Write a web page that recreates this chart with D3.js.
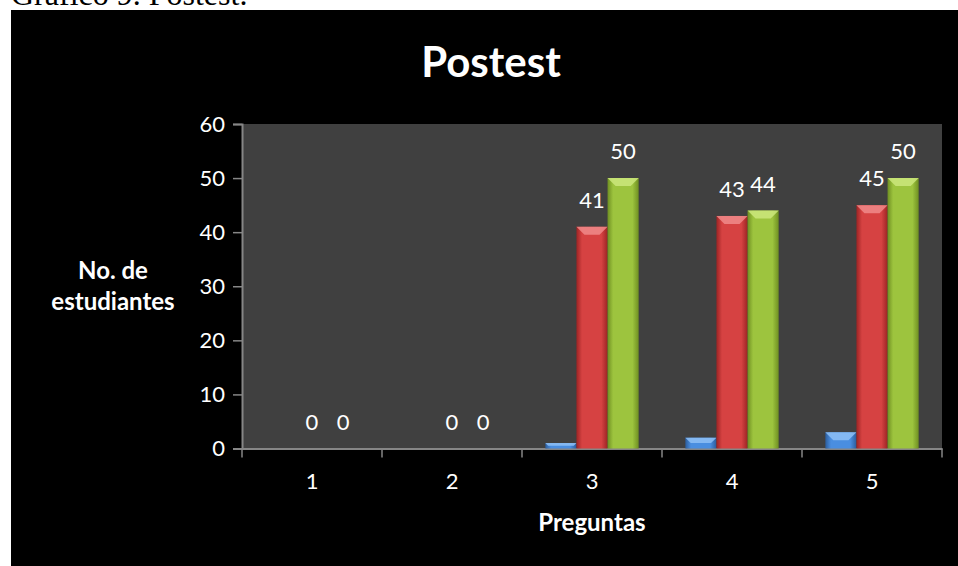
<!DOCTYPE html>
<html>
<head>
<meta charset="utf-8">
<script src="https://cdn.jsdelivr.net/npm/d3@7"></script>
<style>
  body { margin: 0; background: #fff; }
  svg { display: block; }
</style>
</head>
<body>
<div id="chart"></div>
<script>
// data
var preguntas = ["1", "2", "3", "4", "5"];
var serie1 = [0, 0, 1, 2, 3];
var serie2 = [0, 0, 41, 43, 45];
var serie3 = [0, 0, 50, 44, 50];
var yTicks = [0, 10, 20, 30, 40, 50, 60];

var W = 958, H = 566;
var plot = {left: 242, right: 942, top: 124, bottom: 448.5};

var svg = d3.select("#chart").append("svg")
    .attr("width", W)
    .attr("height", H);

// caption, cut at the top of the page like in the original
svg.append("text")
    .attr("x", 11)
    .attr("y", 5)
    .attr("font-family", "Liberation Serif")
    .attr("font-size", 32)
    .attr("fill", "#000")
    .text("Gráfico 9. Postest.");

svg.append("rect")
    .attr("x", 11).attr("y", 10)
    .attr("width", W).attr("height", H)
    .attr("fill", "#000");

var defs = svg.append("defs");
var colors = [
    {id: "g1", dark: "#2c5d9c", mid: "#4a8ee0", top: "#8ec0f5"},
    {id: "g2", dark: "#9c2424", mid: "#d64242", top: "#f08a8a"},
    {id: "g3", dark: "#6f8f22", mid: "#9dc43e", top: "#cde87c"}
];
colors.forEach(function (c) {
    var g = defs.append("linearGradient").attr("id", c.id)
        .attr("x1", 0).attr("x2", 1).attr("y1", 0).attr("y2", 0);
    g.append("stop").attr("offset", "0%").attr("stop-color", c.dark);
    g.append("stop").attr("offset", "18%").attr("stop-color", c.mid);
    g.append("stop").attr("offset", "80%").attr("stop-color", c.mid);
    g.append("stop").attr("offset", "100%").attr("stop-color", c.dark);
});

var x0 = d3.scaleBand()
    .domain(preguntas)
    .range([plot.left, plot.right])
    .paddingInner(0)
    .paddingOuter(0);

var groupW = x0.bandwidth() * 3 / 4.5;
var x1 = d3.scaleBand()
    .domain([0, 1, 2])
    .range([(x0.bandwidth() - groupW) / 2, (x0.bandwidth() + groupW) / 2]);

var y = d3.scaleLinear()
    .domain([0, 60])
    .range([plot.bottom, plot.top]);

// plot background
svg.append("rect")
    .attr("x", plot.left).attr("y", plot.top)
    .attr("width", plot.right - plot.left)
    .attr("height", plot.bottom - plot.top)
    .attr("fill", "#404040");

var font = "Lato, 'Open Sans', sans-serif";

// y axis
var yAxis = svg.append("g")
    .attr("transform", "translate(" + plot.left + ",0)")
    .call(d3.axisLeft(y).tickValues(yTicks).tickSize(9).tickPadding(8));
yAxis.select(".domain").attr("stroke", "#868686").attr("stroke-width", 2);
yAxis.selectAll(".tick line").attr("stroke", "#868686").attr("stroke-width", 1.5);
yAxis.selectAll(".tick text")
    .attr("fill", "#fff")
    .attr("font-family", font)
    .attr("font-size", 22);

// x axis
var xAxis = svg.append("g")
    .attr("transform", "translate(0," + plot.bottom + ")")
    .call(d3.axisBottom(x0).tickSize(0).tickPadding(25));
xAxis.select(".domain").attr("stroke", "#868686").attr("stroke-width", 2);
xAxis.selectAll(".tick text")
    .attr("fill", "#fff")
    .attr("font-family", font)
    .attr("font-size", 22);
// category boundary ticks
xAxis.selectAll(".bound")
    .data(preguntas.concat(["end"]))
    .enter().append("line")
    .attr("x1", function (d, i) { return plot.left + i * x0.step(); })
    .attr("x2", function (d, i) { return plot.left + i * x0.step(); })
    .attr("y1", 0).attr("y2", 9)
    .attr("stroke", "#868686").attr("stroke-width", 1.5);

var series = [serie1, serie2, serie3];
var bevel = 8;

series.forEach(function (vals, s) {
    var g = svg.append("g");
    var bars = g.selectAll("g.bar")
        .data(vals.map(function (v, i) { return {cat: preguntas[i], v: v}; })
            .filter(function (d) { return d.v > 0; }))
        .enter().append("g");

    bars.append("rect")
        .attr("x", function (d) { return x0(d.cat) + x1(s); })
        .attr("y", function (d) { return y(d.v); })
        .attr("width", x1.bandwidth())
        .attr("height", function (d) { return y(0) - y(d.v); })
        .attr("fill", "url(#" + colors[s].id + ")");

    bars.append("path")
        .attr("d", function (d) {
            var bx = x0(d.cat) + x1(s), by = y(d.v), bw = x1.bandwidth();
            var b = Math.min(bevel, (y(0) - y(d.v)) / 2);
            return "M" + bx + "," + by + "L" + (bx + bw) + "," + by +
                "L" + (bx + bw - b) + "," + (by + b) + "L" + (bx + b) + "," + (by + b) + "Z";
        })
        .attr("fill", colors[s].top)
        .attr("opacity", 0.85);
});

// data labels (series 2 and 3)
[serie2, serie3].forEach(function (vals, k) {
    var s = k + 1;
    svg.append("g").selectAll("text")
        .data(vals)
        .enter().append("text")
        .attr("x", function (d, i) { return x0(preguntas[i]) + x1(s) + x1.bandwidth() / 2; })
        .attr("y", function (d) { return y(d) - 19; })
        .attr("text-anchor", "middle")
        .attr("fill", "#fff")
        .attr("font-family", font)
        .attr("font-size", 22)
        .text(function (d) { return d; });
});

// title
svg.append("text")
    .attr("x", 491).attr("y", 77)
    .attr("text-anchor", "middle")
    .attr("fill", "#fff")
    .attr("font-family", font)
    .attr("font-weight", "bold")
    .attr("font-size", 42)
    .text("Postest");

// y axis title
var yt = svg.append("text")
    .attr("text-anchor", "middle")
    .attr("fill", "#fff")
    .attr("font-family", font)
    .attr("font-weight", "bold")
    .attr("font-size", 24);
yt.append("tspan").attr("x", 113).attr("y", 279).text("No. de");
yt.append("tspan").attr("x", 113).attr("y", 310).text("estudiantes");

// x axis title
svg.append("text")
    .attr("x", (plot.left + plot.right) / 2).attr("y", 531)
    .attr("text-anchor", "middle")
    .attr("fill", "#fff")
    .attr("font-family", font)
    .attr("font-weight", "bold")
    .attr("font-size", 24)
    .text("Preguntas");
</script>
</body>
</html>
